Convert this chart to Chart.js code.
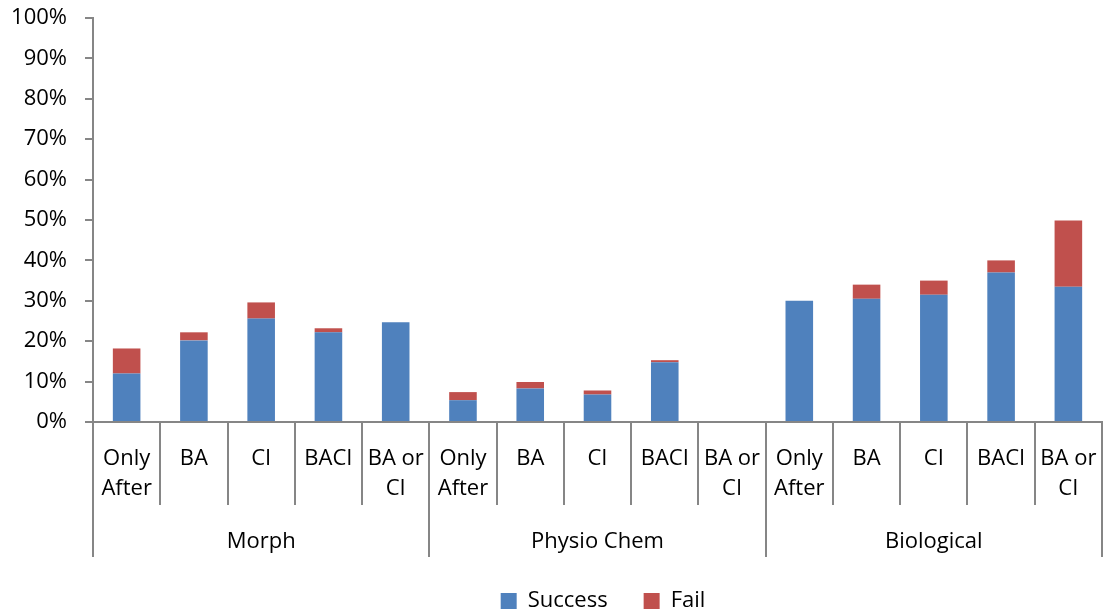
<!DOCTYPE html>
<html>
<head>
<meta charset="utf-8">
<script src="https://cdn.jsdelivr.net/npm/chart.js@4/dist/chart.umd.min.js"></script>
<style>
  html, body { margin: 0; padding: 0; background: #ffffff; }
  #wrap { width: 1103px; height: 615px; position: relative; }
</style>
</head>
<body>
<div id="wrap"><canvas id="chart"></canvas></div>
<script>
// Study designs within each indicator group
const designs = [
  ['Only', 'After'], 'BA', 'CI', 'BACI', ['BA or', 'CI'],
  ['Only', 'After'], 'BA', 'CI', 'BACI', ['BA or', 'CI'],
  ['Only', 'After'], 'BA', 'CI', 'BACI', ['BA or', 'CI']
];
const groups = ['Morph', 'Physio Chem', 'Biological'];

// Share of studies (%) per design, stacked: success + fail
const successPct = [12.0, 20.2, 25.6, 22.2, 24.7, 5.4, 8.3, 6.8, 14.8, 0, 30.0, 30.5, 31.5, 37.0, 33.5];
const failPct    = [6.2, 2.0, 4.0, 1.0, 0, 2.0, 1.6, 1.0, 0.5, 0, 0, 3.5, 3.5, 3.0, 16.4];

const yTicks = [0, 10, 20, 30, 40, 50, 60, 70, 80, 90, 100];

const FONT = 'Open Sans';
const AXIS_GREY = '#868686';

Chart.defaults.font.family = FONT;
Chart.defaults.font.size = 22;
Chart.defaults.color = '#000000';

// Fix an axis band to a set thickness and drop the label overhang padding
function fixBand(size) {
  return (scale) => {
    if (scale.isHorizontal()) {
      scale.height = size;
    } else {
      scale.width = size;
    }
    scale.paddingTop = 0;
    scale.paddingBottom = 0;
    scale.paddingLeft = 0;
    scale.paddingRight = 0;
  };
}

// Centre the legend row under the plot area rather than the whole canvas
const legendShift = {
  id: 'legendShift',
  afterLayout(chart) {
    const lg = chart.legend;
    if (!lg) return;
    const dx = 52;
    lg.left += dx;
    lg.right += dx;
  }
};

new Chart(document.getElementById('chart'), {
  type: 'bar',
  data: {
    labels: designs,
    datasets: [
      { label: 'Success', data: successPct, backgroundColor: '#4F81BD', borderWidth: 0 },
      { label: 'Fail', data: failPct, backgroundColor: '#C0504D', borderWidth: 0 }
    ]
  },
  plugins: [legendShift],
  options: {
    responsive: true,
    maintainAspectRatio: false,
    animation: false,
    datasets: { bar: { categoryPercentage: 1.0, barPercentage: 0.41 } },
    layout: { padding: { top: 18, right: 1, left: 0, bottom: -7 } },
    plugins: {
      tooltip: { enabled: false },
      legend: {
        position: 'bottom',
        labels: {
          boxWidth: 16,
          boxHeight: 16,
          padding: 36,
          font: { size: 22, family: FONT },
          color: '#000000'
        }
      }
    },
    scales: {
      x: {
        stacked: true,
        weight: 0,
        afterFit: fixBand(83),
        border: { color: AXIS_GREY, width: 2 },
        grid: {
          offset: true,
          drawOnChartArea: false,
          color: AXIS_GREY,
          lineWidth: 2,
          tickLength: 83,
          tickWidth: 2
        },
        ticks: {
          autoSkip: false,
          maxRotation: 0,
          padding: -62,
          font: { size: 22, family: FONT, lineHeight: 1.4 },
          color: '#000000'
        }
      },
      x2: {
        type: 'category',
        position: 'bottom',
        labels: groups,
        weight: 1,
        afterFit: fixBand(49),
        border: { display: false },
        grid: {
          offset: true,
          drawOnChartArea: false,
          color: AXIS_GREY,
          lineWidth: 2,
          tickLength: 52,
          tickWidth: 2
        },
        ticks: {
          autoSkip: false,
          maxRotation: 0,
          padding: -28,
          font: { size: 22, family: FONT, lineHeight: 1.2 },
          color: '#000000'
        }
      },
      y: {
        stacked: true,
        min: 0,
        max: 100,
        afterFit: fixBand(93),
        afterBuildTicks: (axis) => { axis.ticks = yTicks.map(v => ({ value: v })); },
        border: { color: AXIS_GREY, width: 2 },
        grid: {
          drawOnChartArea: false,
          color: AXIS_GREY,
          lineWidth: 2,
          tickLength: 8,
          tickWidth: 2
        },
        ticks: {
          padding: 18,
          font: { size: 22, family: FONT },
          color: '#000000',
          callback: (v) => v + '%'
        }
      }
    }
  }
});
</script>
</body>
</html>
